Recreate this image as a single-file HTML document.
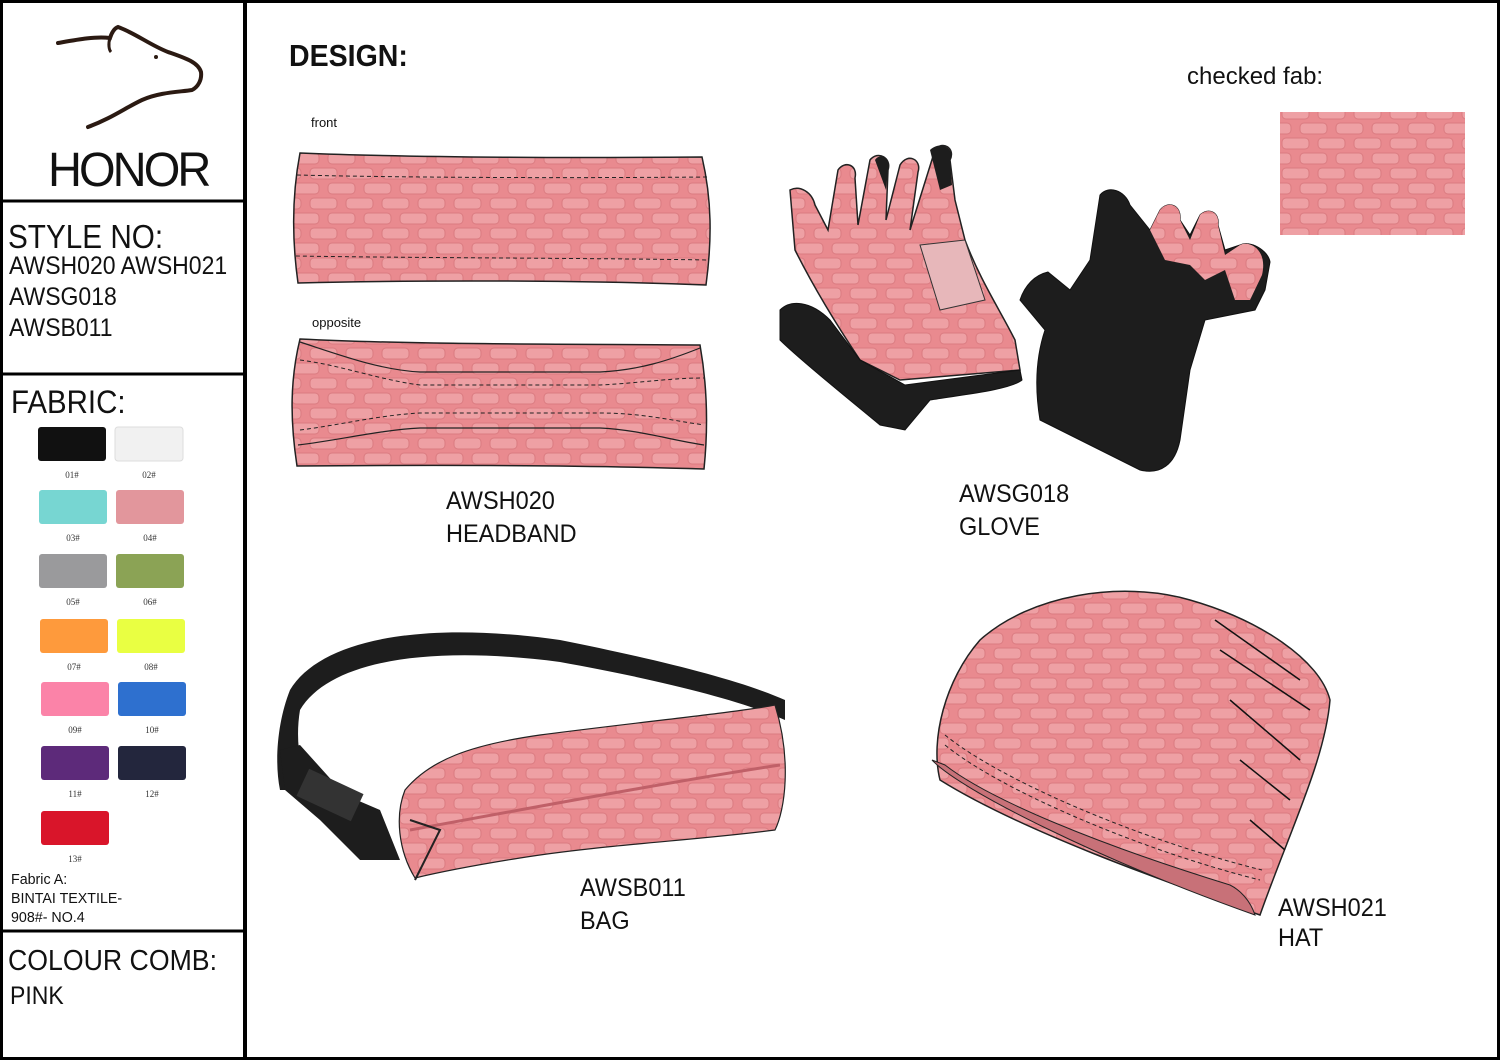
<!DOCTYPE html>
<html><head><meta charset="utf-8"><style>
html,body{margin:0;padding:0;background:#fff}
body{width:1500px;height:1060px;position:relative;overflow:hidden;font-family:"Liberation Sans","DejaVu Sans",sans-serif}
.t{position:absolute;color:#111;white-space:nowrap;transform-origin:0 0}
</style></head><body>
<svg width="1500" height="1060" style="position:absolute;left:0;top:0">
<defs>
<pattern id="tx" width="36" height="30" patternUnits="userSpaceOnUse">
<rect width="36" height="30" fill="#e98a8f"/>
<rect x="4" y="3" width="27" height="11" rx="4" fill="#eea0a4" stroke="#db7b81" stroke-width="1"/>
<rect x="-14" y="18" width="27" height="11" rx="4" fill="#eea0a4" stroke="#db7b81" stroke-width="1"/>
<rect x="22" y="18" width="27" height="11" rx="4" fill="#eea0a4" stroke="#db7b81" stroke-width="1"/>
</pattern>
</defs>
<rect x="1.5" y="1.5" width="1497" height="1057" fill="none" stroke="#000" stroke-width="3"/>
<line x1="245" y1="0" x2="245" y2="1060" stroke="#000" stroke-width="4"/>
<line x1="0" y1="201" x2="245" y2="201" stroke="#000" stroke-width="3"/>
<line x1="0" y1="374" x2="245" y2="374" stroke="#000" stroke-width="3"/>
<line x1="0" y1="931" x2="245" y2="931" stroke="#000" stroke-width="3"/>
<!-- bear -->
<path d="M58 43 C75 40 95 36 110 38 C112 32 115 28 118 27 C135 33 150 45 168 52 C185 58 198 62 201 72 C202 80 198 87 192 90 C180 92 160 92 142 100 C125 108 112 118 88 127" fill="none" stroke="#2b1a12" stroke-width="4" stroke-linecap="round"/>
<path d="M110 38 C108 44 109 50 111 52" fill="none" stroke="#2b1a12" stroke-width="3"/>
<circle cx="156" cy="57" r="2" fill="#2b1a12"/>
<path d="M176 91 L190 91" stroke="#2b1a12" stroke-width="2"/>
<!-- swatches -->
<g>
<rect x="38" y="427" width="68" height="34" rx="3" fill="#111"/>
<rect x="115" y="427" width="68" height="34" rx="3" fill="#f1f1f1" stroke="#ddd"/>
<rect x="39" y="490" width="68" height="34" rx="3" fill="#77d6d2"/>
<rect x="116" y="490" width="68" height="34" rx="3" fill="#e2969c"/>
<rect x="39" y="554" width="68" height="34" rx="3" fill="#9a9a9c"/>
<rect x="116" y="554" width="68" height="34" rx="3" fill="#8ba355"/>
<rect x="40" y="619" width="68" height="34" rx="3" fill="#fe9a3c"/>
<rect x="117" y="619" width="68" height="34" rx="3" fill="#e9ff42"/>
<rect x="41" y="682" width="68" height="34" rx="3" fill="#fb83a8"/>
<rect x="118" y="682" width="68" height="34" rx="3" fill="#2e70cf"/>
<rect x="41" y="746" width="68" height="34" rx="3" fill="#5d2a7a"/>
<rect x="118" y="746" width="68" height="34" rx="3" fill="#23263d"/>
<rect x="41" y="811" width="68" height="34" rx="3" fill="#d9152a"/>
</g>
<g font-family="Liberation Serif,serif" font-size="9" fill="#333" text-anchor="middle">
<text x="72" y="478">01#</text><text x="149" y="478">02#</text>
<text x="73" y="541">03#</text><text x="150" y="541">04#</text>
<text x="73" y="605">05#</text><text x="150" y="605">06#</text>
<text x="74" y="670">07#</text><text x="151" y="670">08#</text>
<text x="75" y="733">09#</text><text x="152" y="733">10#</text>
<text x="75" y="797">11#</text><text x="152" y="797">12#</text>
<text x="75" y="862">13#</text>
</g>
<!-- headband front -->
<path d="M300 153 C420 158 590 158 702 157 C712 200 712 240 706 285 C580 280 420 280 298 283 C292 240 292 195 300 153Z" fill="url(#tx)" stroke="#222" stroke-width="1.5"/>
<path d="M297 175 C420 178 590 178 708 177" fill="none" stroke="#222" stroke-dasharray="4 3"/>
<path d="M296 256 C420 258 590 258 708 260" fill="none" stroke="#222" stroke-dasharray="4 3"/>
<!-- headband opposite -->
<path d="M300 339 C420 345 590 344 700 345 C708 390 708 430 704 469 C580 465 420 465 297 466 C290 420 290 380 300 339Z" fill="url(#tx)" stroke="#222" stroke-width="1.5"/>
<path d="M300 342 C340 355 380 370 420 372 L600 372 C640 370 670 360 700 348" fill="none" stroke="#222" stroke-width="1.2"/>
<path d="M300 360 C340 365 380 380 420 385 L600 385 C640 383 670 378 704 378" fill="none" stroke="#222" stroke-dasharray="4 3"/>
<path d="M298 445 C340 440 380 430 420 428 L600 428 C640 430 670 440 704 445" fill="none" stroke="#222" stroke-width="1.2"/>
<path d="M300 430 C340 425 380 415 420 413 L600 413 C640 413 670 420 704 425" fill="none" stroke="#222" stroke-dasharray="4 3"/>
<!-- glove 1 -->
<path d="M790 190 C800 185 812 192 815 205 L828 230 L838 170 C845 160 858 165 855 178 L858 225 L870 160 C878 150 892 158 888 170 L886 220 L900 165 C908 152 922 160 918 172 L910 230 L935 150 C942 140 956 148 950 160 L955 200 L965 240 C980 280 1000 310 1015 340 L1020 370 L900 380 L860 360 C840 330 815 290 795 250 Z" fill="url(#tx)" stroke="#222" stroke-width="1.5"/>
<path d="M920 245 L965 240 L985 300 L940 310 Z" fill="#e7b7ba" stroke="#333"/>
<path d="M780 310 C790 300 810 300 830 320 L860 360 L905 385 L1020 370 L1022 380 C1010 390 960 395 930 400 L905 430 L880 425 C850 400 800 360 780 340 Z" fill="#1d1d1d" stroke="#111"/>
<path d="M930 150 C940 140 956 148 950 160 L952 185 L940 190 Z M875 160 C880 152 892 158 888 170 L886 190 Z" fill="#1d1d1d"/>
<!-- glove 2 -->
<path d="M1100 195 C1108 185 1125 190 1130 205 L1150 230 L1160 210 C1168 200 1182 205 1180 220 L1190 235 L1200 215 C1208 207 1220 212 1218 225 L1225 250 L1240 245 C1250 240 1268 250 1270 262 L1265 290 L1255 310 L1205 320 L1190 370 L1180 440 C1175 465 1160 475 1140 470 L1040 420 C1035 390 1035 360 1045 330 L1020 300 C1025 285 1035 275 1048 272 L1070 290 L1090 260 Z" fill="#1d1d1d" stroke="#111"/>
<path d="M1150 230 L1160 210 C1168 200 1182 205 1180 220 L1190 240 L1200 215 C1208 207 1220 212 1218 225 L1225 255 L1240 245 C1250 240 1268 250 1262 275 L1250 300 L1235 300 L1225 270 L1205 280 L1190 265 L1165 260 Z" fill="url(#tx)"/>
<!-- bag strap -->
<path d="M290 690 C320 640 420 620 560 640 C660 660 740 680 785 700 L785 720 C740 700 660 680 560 662 C430 645 330 660 300 710 C295 740 300 770 310 790 L280 790 C274 760 278 720 290 690Z" fill="#1d1d1d"/>
<path d="M280 750 L300 745 L345 795 L380 810 L400 860 L360 860 L320 820 L285 790 Z" fill="#1d1d1d"/>
<rect x="300" y="780" width="60" height="30" fill="#333" transform="rotate(25 330 795)"/>
<!-- bag body -->
<path d="M405 790 C430 760 470 745 540 735 C640 722 740 712 775 705 C792 760 785 810 775 830 C700 840 600 845 520 858 C470 866 440 872 415 878 C398 850 395 815 405 790Z" fill="url(#tx)" stroke="#222" stroke-width="1.2"/>
<path d="M410 830 C520 810 680 780 780 765" fill="none" stroke="#c06068" stroke-width="3"/>
<path d="M410 820 L440 830 L415 880" fill="none" stroke="#222" stroke-width="2"/>
<!-- hat -->
<path d="M980 640 C1030 595 1120 580 1190 600 C1260 620 1320 660 1330 700 C1325 760 1290 830 1260 915 C1160 880 1020 830 940 780 C930 740 945 680 980 640Z" fill="url(#tx)" stroke="#222" stroke-width="1.5"/>
<path d="M932 760 C960 790 1100 860 1255 915 C1250 900 1240 890 1230 885 C1100 845 990 800 945 765 Z" fill="#c87178" stroke="#222"/>
<path d="M945 745 C1000 790 1140 850 1260 880" fill="none" stroke="#222" stroke-dasharray="4 3"/>
<path d="M945 735 C1000 780 1140 840 1262 870" fill="none" stroke="#222" stroke-dasharray="4 3"/>
<g stroke="#111" stroke-width="1.5"><line x1="1215" y1="620" x2="1300" y2="680"/><line x1="1220" y1="650" x2="1310" y2="710"/><line x1="1230" y1="700" x2="1300" y2="760"/><line x1="1240" y1="760" x2="1290" y2="800"/><line x1="1250" y1="820" x2="1285" y2="850"/></g>
<rect x="1280" y="112" width="185" height="123" fill="url(#tx)"/>
</svg>
<div class="t" style="left:48px;top:143px;font-size:48px;letter-spacing:-3px;transform:scaleX(0.98)">HONOR</div>
<div class="t" style="left:8px;top:218px;font-size:33px;transform:scaleX(0.9)">STYLE NO:</div>
<div class="t" style="left:9px;top:251px;font-size:25px;line-height:31px;transform:scaleX(0.92)">AWSH020 AWSH021<br>AWSG018<br>AWSB011</div>
<div class="t" style="left:11px;top:384px;font-size:32px;transform:scaleX(0.92)">FABRIC:</div>
<div class="t" style="left:11px;top:870px;font-size:15px;line-height:19px;transform:scaleX(0.95)">Fabric A:<br>BINTAI TEXTILE-<br>908#- NO.4</div>
<div class="t" style="left:8px;top:945px;font-size:29px;transform:scaleX(0.92)">COLOUR COMB:</div>
<div class="t" style="left:10px;top:982px;font-size:25px;transform:scaleX(0.92)">PINK</div>
<div class="t" style="left:289px;top:38px;font-size:31px;font-weight:bold;transform:scaleX(0.92)">DESIGN:</div>
<div class="t" style="left:1187px;top:63px;font-size:24px;transform:scaleX(1.0)">checked fab:</div>
<div class="t" style="left:311px;top:115px;font-size:13px">front</div>
<div class="t" style="left:312px;top:315px;font-size:13px">opposite</div>
<div class="t" style="left:446px;top:485px;font-size:25px;line-height:33px;transform:scaleX(0.94)">AWSH020<br>HEADBAND</div>
<div class="t" style="left:959px;top:478px;font-size:25px;line-height:33px;transform:scaleX(0.94)">AWSG018<br>GLOVE</div>
<div class="t" style="left:580px;top:872px;font-size:25px;line-height:33px;transform:scaleX(0.94)">AWSB011<br>BAG</div>
<div class="t" style="left:1278px;top:893px;font-size:25px;line-height:30px;transform:scaleX(0.94)">AWSH021<br>HAT</div>
</body></html>
